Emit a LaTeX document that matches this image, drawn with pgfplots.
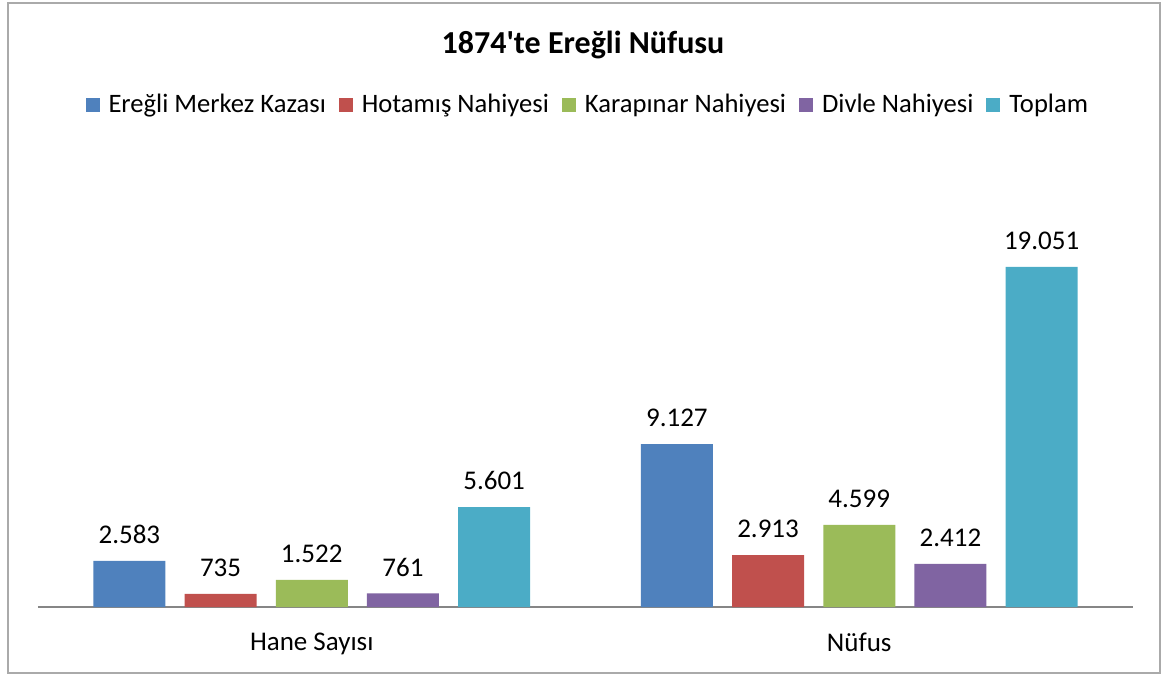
\documentclass[border=0pt]{standalone}
\usepackage{fontspec}
\setmainfont{Carlito}
\usepackage{pgfplots}
\pgfplotsset{compat=1.18}

\definecolor{sBlue}{HTML}{4F81BD}
\definecolor{sRed}{HTML}{C0504D}
\definecolor{sGreen}{HTML}{9BBB59}
\definecolor{sPurple}{HTML}{8064A2}
\definecolor{sTeal}{HTML}{4BACC6}
\definecolor{axGray}{HTML}{868686}

\begin{document}
\begin{tikzpicture}[x=0.5pt,y=0.5pt]
% page = 1167 x 675 px, axis south west corner at px (38,607)
\useasboundingbox (-38,607) rectangle (1129,-68);
\draw[axGray!70, line width=0.8pt] (-30,604) rectangle (1122,-66);
\node[font=\bfseries\fontsize{16}{19}\selectfont] at (545,562) {1874\textquotesingle te Ereğli Nüfusu};
\begin{axis}[
    at={(0,0)}, anchor=south west,
    scale only axis,
    width=547.5pt, height=178.5pt,
    ybar, bar width=36pt, ybar=9.6pt,
    ymin=0, ymax=20000,
    xmin=-0.5, xmax=1.5,
    xtick={0,1}, xticklabels={Hane Sayısı, Nüfus},
    xtick style={draw=none},
    xticklabel style={font=\fontsize{13.5}{16}\selectfont, yshift=-5pt},
    ytick=\empty,
    axis y line=none,
    axis x line*=bottom,
    x axis line style={axGray, line width=0.8pt, -},
    /pgf/number format/assume math mode=true,
    nodes near coords={\pgfmathprintnumber[fixed,precision=0,1000 sep={.}]{\pgfplotspointmeta}},
    every node near coord/.append style={font=\fontsize{13.5}{16}\selectfont, anchor=south, yshift=5pt, text=black},
    legend columns=5,
    legend style={at={(0.503,1.406)}, anchor=center, draw=none, fill=none,
        font=\fontsize{13.3}{16}\selectfont,
        /tikz/every odd column/.append style={column sep=2.5pt},
        /tikz/every even column/.append style={column sep=4.5pt}},
    legend image code/.code={\fill[#1] (0pt,-3.5pt) rectangle (7pt,3.5pt);},
    clip=false,
]
\addplot[fill=sBlue, draw=none] coordinates {(0,2583) (1,9127)};
\addplot[fill=sRed, draw=none] coordinates {(0,735) (1,2913)};
\addplot[fill=sGreen, draw=none] coordinates {(0,1522) (1,4599)};
\addplot[fill=sPurple, draw=none] coordinates {(0,761) (1,2412)};
\addplot[fill=sTeal, draw=none] coordinates {(0,5601) (1,19051)};
\legend{Ereğli Merkez Kazası, Hotamış Nahiyesi, Karapınar Nahiyesi, Divle Nahiyesi, Toplam}
\end{axis}
\end{tikzpicture}
\end{document}
